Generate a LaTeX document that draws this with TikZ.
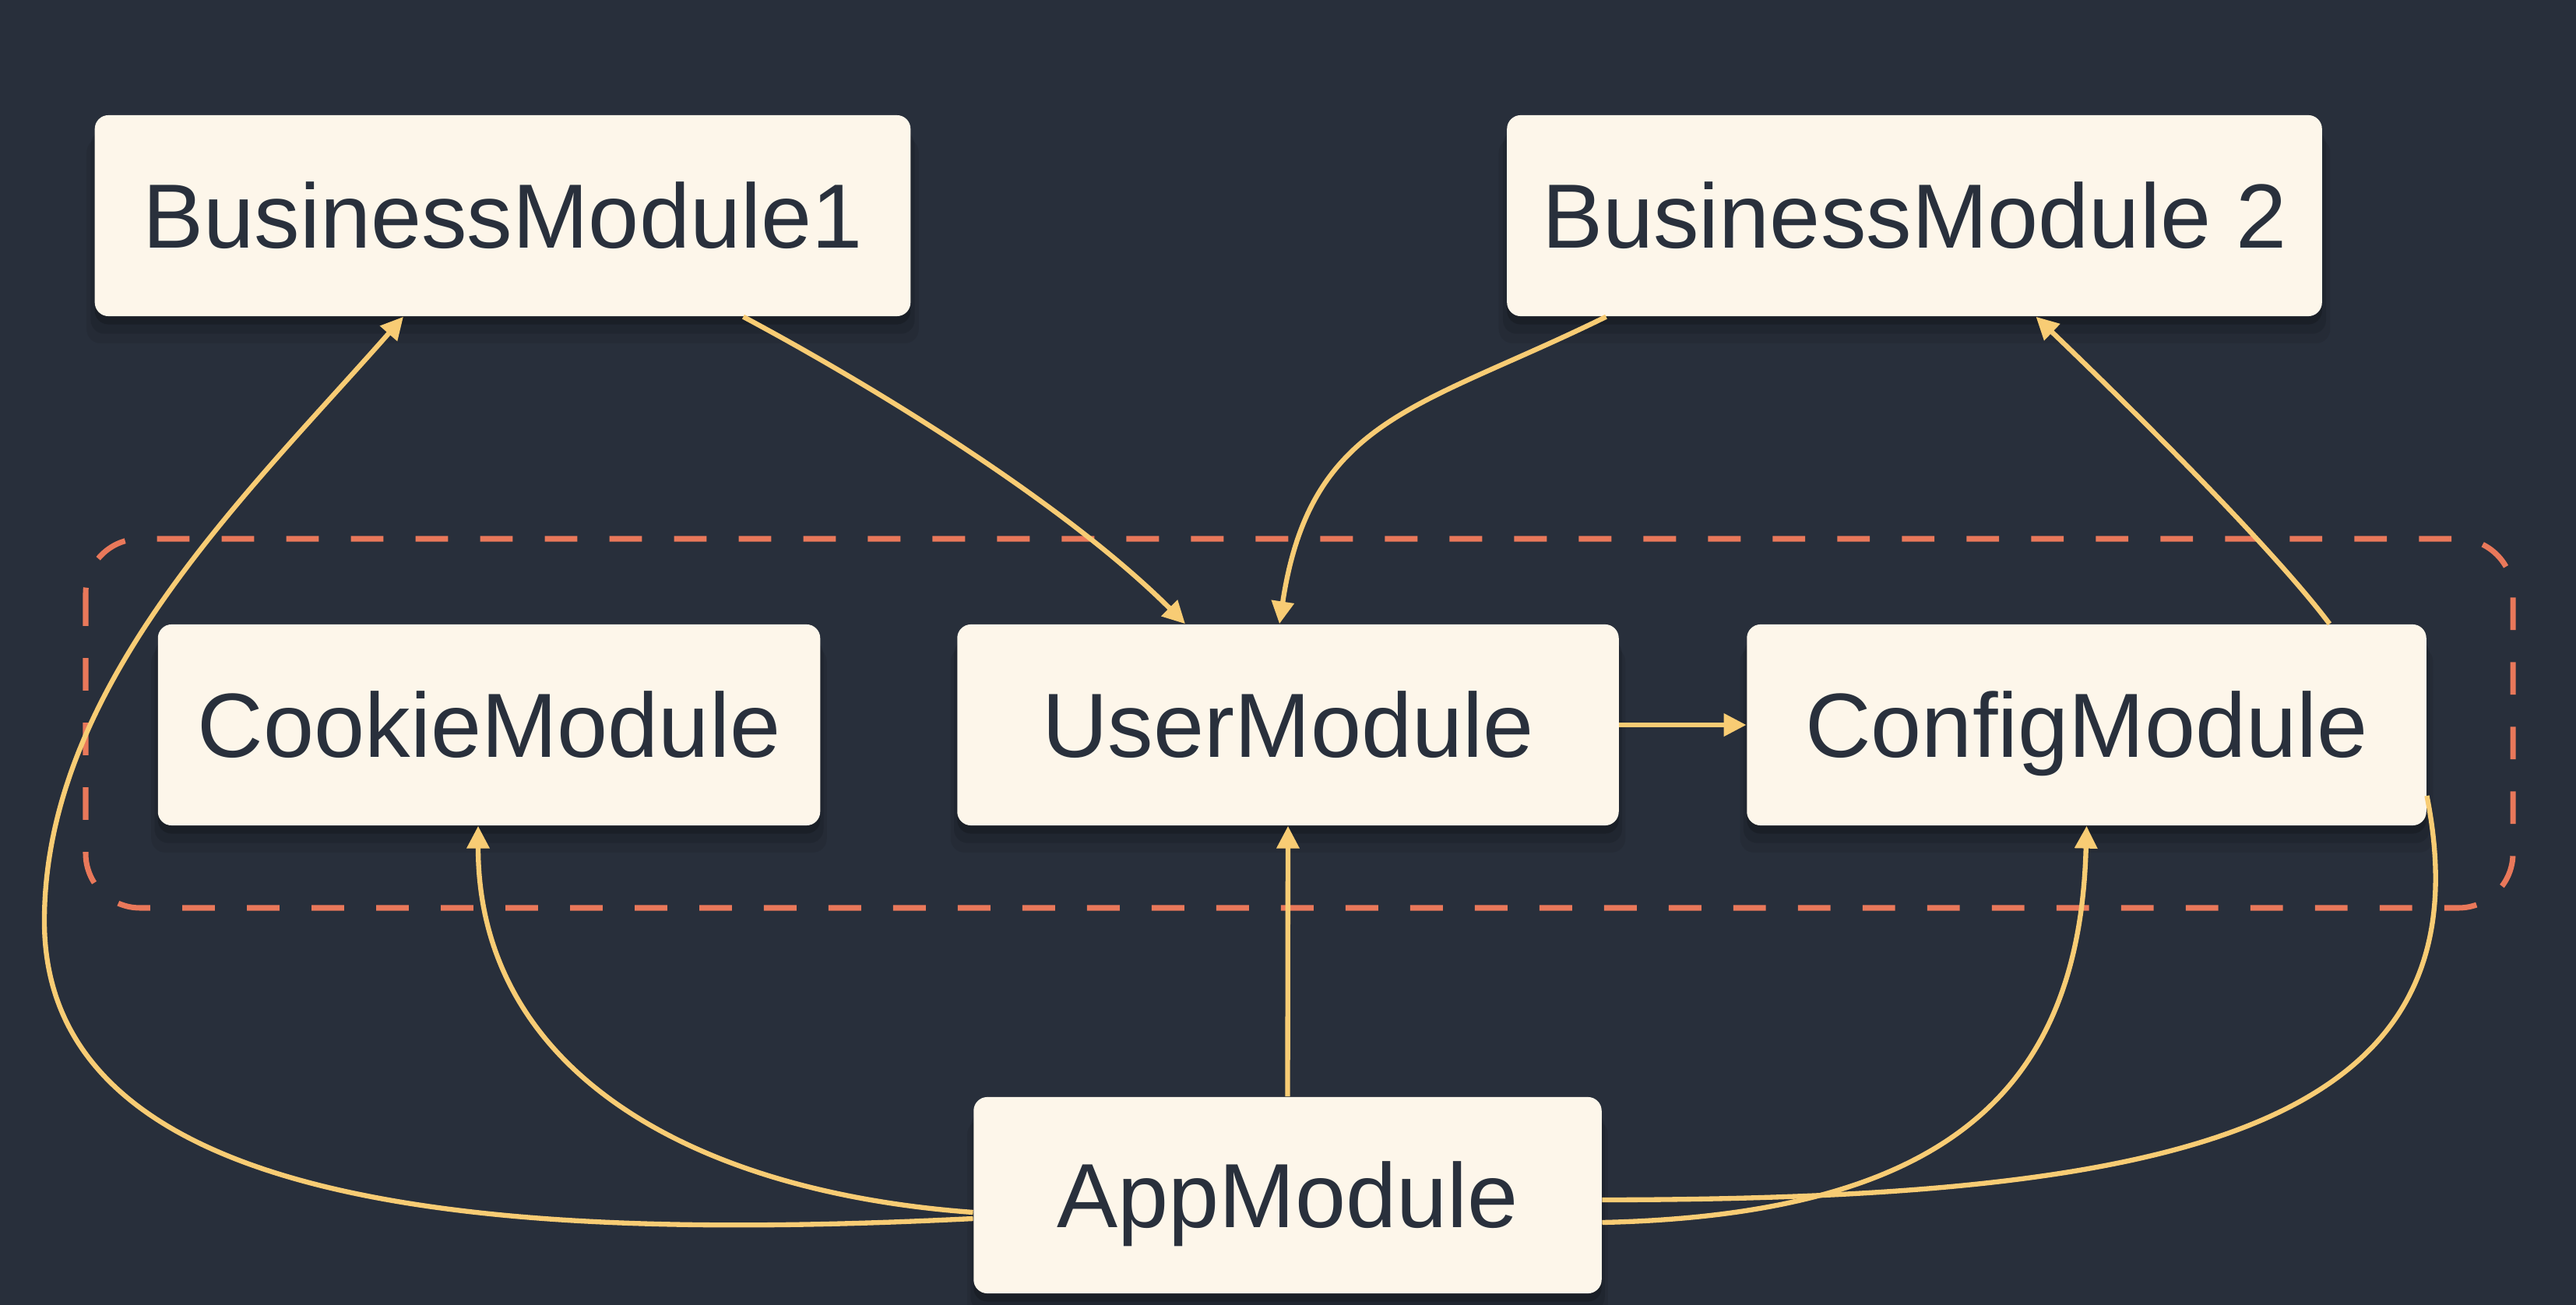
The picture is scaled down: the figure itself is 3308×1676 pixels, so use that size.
\documentclass[tikz,border=0pt]{standalone}
\usepackage{fontspec}
\setmainfont{Liberation Sans}
\usetikzlibrary{arrows.meta,calc,shadows}
\definecolor{bgcol}{HTML}{282F3B}
\definecolor{boxcol}{HTML}{FDF6EA}
\definecolor{txtcol}{HTML}{29303C}
\definecolor{depcol}{HTML}{F8CC74}
\definecolor{grpcol}{HTML}{E9785A}
\definecolor{shadecol}{HTML}{101318}

\begin{document}
\begin{tikzpicture}[x=0.01cm, y=-0.01cm,
  modbox/.style={fill=boxcol, rounded corners=5pt, inner sep=0pt, minimum height=2.58cm,
    text=txtcol, font=\fontsize{33.3}{40}\selectfont, text height=23.8pt, text depth=0pt,
    drop shadow={shadow xshift=0pt, shadow yshift=-9pt, shadow scale=1.02, fill=shadecol, opacity=0.12},
    drop shadow={shadow xshift=0pt, shadow yshift=-6pt, shadow scale=1.01, fill=shadecol, opacity=0.2},
    drop shadow={shadow xshift=0pt, shadow yshift=-3pt, fill=shadecol, opacity=0.35}},
  dep/.style={draw=depcol, line width=1.8pt, -{Triangle[length=8.2pt,width=8pt]}},
  deplink/.style={draw=depcol, line width=1.8pt}]

\useasboundingbox (0,0) rectangle (3308,1676);
\fill[bgcol] (0,0) rectangle (3308,1676);

% group round the inner modules
\draw[grpcol, line width=2pt, dash pattern=on 11.9pt off 11.7pt, rounded corners=0.7cm]
  (110,692) rectangle (3227,1166);

\node[modbox, minimum width=10.47cm] (bmone) at (645.5,277) {BusinessModule1};
\node[modbox, minimum width=10.46cm] (bmtwo) at (2458.5,277) {BusinessModule 2};

\node[modbox, minimum width=8.5cm] (cookie) at (628,931) {CookieModule};
\node[modbox, minimum width=8.49cm] (user) at (1654,931) {UserModule};
\node[modbox, minimum width=8.72cm] (config) at (2679.5,931) {ConfigModule};

\node[modbox, minimum width=8.06cm, minimum height=2.52cm] (app) at (1653.5,1535) {AppModule};

\coordinate (farleft) at (57,1183);

% business modules
\draw[dep] ($(bmone.south)+(309,0)$) .. controls +(185,99) and +(-148,-148) .. ($(user.north)+(-132,0)$);
\draw[dep] ($(bmtwo.south)+(-396,0)$) .. controls +(-240,118) and +(40,-265) .. ($(user.north)+(-11,0)$);
\draw[dep] ($(config.north)+(312,0)$) .. controls +(-78,-104) and +(94,90) .. ($(bmtwo.south)+(156,0)$);

\draw[dep] (user) -- (config);
\draw[dep] (app.north) -- (user.south);

% from the app module
\draw[dep] ($(app.west)+(0,22)$) .. controls +(-370,-27) and +(0,310) .. ($(cookie.south)+(-14,0)$);
\draw[dep] ($(app.west)+(0,30)$) .. controls +(-600,30) and +(0,377) .. (farleft)
  .. controls +(0,-303) and +(-198,225) .. ($(bmone.south)+(-127.5,0)$);
\draw[dep] ($(app.east)+(0,35)$) .. controls +(442,-10) and +(-9,340) .. (config.south);
\draw[deplink] ($(config.east)+(0,91)$) .. controls +(85,428) and +(742,-1) .. ($(app.east)+(0,6)$);

\end{tikzpicture}
\end{document}
